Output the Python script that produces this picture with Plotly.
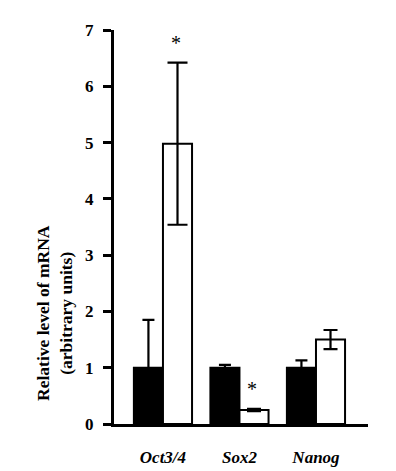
import plotly.graph_objects as go

categories = ["Oct3/4", "Sox2", "Nanog"]
control_vals = [1.0, 1.0, 1.0]
control_err = [0.85, 0.05, 0.13]
treated_vals = [4.98, 0.25, 1.5]
treated_err = [1.44, 0.02, 0.17]
sig_labels = ["*", "*", ""]

cat_labels = [f"<b><i>{c}</i></b>" for c in categories]
FONT = "Liberation Serif"

fig = go.Figure()
fig.add_trace(go.Bar(
    x=cat_labels, y=control_vals, name="control", offsetgroup="a",
    marker=dict(color="black", line=dict(color="black", width=2)),
    error_y=dict(type="data", array=control_err, color="black", thickness=2.2, width=6),
))
# Oct3/4 treated has a wider error cap
fig.add_trace(go.Bar(
    x=cat_labels[:1], y=treated_vals[:1], name="treated", offsetgroup="b",
    marker=dict(color="white", line=dict(color="black", width=2)),
    error_y=dict(type="data", array=treated_err[:1], color="black", thickness=2.2, width=10),
))
fig.add_trace(go.Bar(
    x=cat_labels[1:], y=treated_vals[1:], name="treated", offsetgroup="b",
    marker=dict(color="white", line=dict(color="black", width=2)),
    error_y=dict(type="data", array=treated_err[1:], color="black", thickness=2.2, width=7),
))

for i, s in enumerate(sig_labels):
    if s:
        top = treated_vals[i] + treated_err[i]
        fig.add_annotation(x=cat_labels[i], y=top, xshift=13, yshift=20, text=s,
                           showarrow=False, font=dict(size=20, family=FONT, color="black"),
                           yanchor="middle")

fig.add_annotation(xref="paper", yref="paper", x=-0.232, y=0.282,
                   text="<b>Relative level of mRNA<br>(arbitrary units)</b>",
                   textangle=-90, showarrow=False, xanchor="center", yanchor="middle",
                   font=dict(size=17.5, family=FONT, color="black"))

fig.update_layout(
    width=396, height=471,
    margin=dict(l=114, r=28, t=30, b=47, autoexpand=False),
    paper_bgcolor="white", plot_bgcolor="white",
    barmode="group", bargap=0.24, bargroupgap=0,
    showlegend=False,
    font=dict(family=FONT, color="black"),
    xaxis=dict(range=[-0.64, 2.68], showline=True, linecolor="black", linewidth=3,
               ticks="", showgrid=False, tickfont=dict(size=17, family=FONT),
               ticklabelstandoff=16, automargin=False),
    yaxis=dict(range=[0, 7], tickvals=[0, 1, 2, 3, 4, 5, 6, 7],
               ticktext=[f"<b>{v}</b>" for v in range(8)],
               showline=True, linecolor="black", linewidth=3,
               ticks="outside", ticklen=8, tickwidth=3, tickcolor="black",
               showgrid=False, zeroline=False, tickfont=dict(size=17, family=FONT),
               ticklabelstandoff=6, automargin=False),
)

fig.write_html("out.html", config={"displayModeBar": False},
               post_script="document.body.style.margin='0px';")
